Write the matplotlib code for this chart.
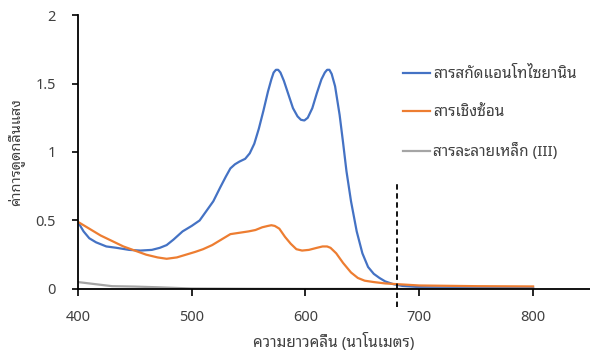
import matplotlib
matplotlib.use('Agg')
import matplotlib.pyplot as plt

plt.rcParams['font.family'] = ['Noto Sans Thai Looped', 'Noto Sans', 'DejaVu Sans']

# absorbance spectra (nm, absorbance)
wl_antho = [400, 405, 410, 416, 425, 434, 445, 455, 465, 472, 478, 484, 492, 500,
            507, 513, 519, 525, 530, 534, 538, 542, 547, 551, 555, 559, 563, 567,
            570, 572, 574, 576, 578, 581, 585, 589, 593, 596, 599, 602, 606, 610,
            614, 617, 619, 621, 623, 626, 630, 633, 636, 640, 645, 650, 655, 660,
            665, 670, 677, 685, 700, 720, 760, 800]
abs_antho = [0.49, 0.42, 0.37, 0.34, 0.31, 0.30, 0.285, 0.28, 0.285, 0.30, 0.32, 0.36, 0.42, 0.46,
             0.50, 0.57, 0.64, 0.74, 0.82, 0.88, 0.91, 0.93, 0.95, 0.99, 1.06, 1.17, 1.30, 1.44,
             1.53, 1.58, 1.60, 1.60, 1.58, 1.52, 1.42, 1.32, 1.26, 1.235, 1.23, 1.25, 1.32, 1.43,
             1.53, 1.58, 1.60, 1.60, 1.57, 1.48, 1.27, 1.07, 0.86, 0.64, 0.42, 0.26, 0.16, 0.11,
             0.08, 0.055, 0.035, 0.022, 0.013, 0.01, 0.008, 0.008]

wl_complex = [400, 410, 420, 430, 440, 450, 460, 470, 478, 487, 495, 503, 510, 518,
              526, 534, 542, 550, 556, 562, 567, 570, 573, 577, 582, 587, 592, 597, 603,
              610, 615, 619, 622, 627, 633, 640, 646, 652, 660, 670, 680, 690, 700, 750, 800]
abs_complex = [0.49, 0.44, 0.39, 0.35, 0.31, 0.28, 0.25, 0.23, 0.22, 0.23, 0.25, 0.27, 0.29, 0.32,
               0.36, 0.40, 0.41, 0.42, 0.43, 0.45, 0.46, 0.465, 0.46, 0.44, 0.38, 0.33, 0.29, 0.28, 0.285,
               0.30, 0.31, 0.31, 0.30, 0.26, 0.19, 0.12, 0.08, 0.06, 0.05, 0.04, 0.035, 0.03, 0.025,
               0.02, 0.018]

wl_iron = [400, 410, 420, 430, 450, 470, 490, 500, 550, 600, 700, 800]
abs_iron = [0.05, 0.04, 0.03, 0.02, 0.017, 0.012, 0.006, 0.003, 0.001, 0.0, 0.0, 0.0]

labels = ['สารสกัดแอนโทไซยานิน', 'สารเชิงซ้อน', 'สารละลายเหล็ก (III)']
colors = ['#4472C4', '#ED7D31', '#A5A5A5']
cutoff_wl = 680

fig = plt.figure(figsize=(5.9, 3.58), dpi=100)
ax = fig.add_axes([0.132, 0.193, 0.868, 0.765])

ax.plot(wl_antho, abs_antho, color=colors[0], lw=1.6, label=labels[0])
ax.plot(wl_complex, abs_complex, color=colors[1], lw=1.6, label=labels[1])
ax.plot(wl_iron, abs_iron, color=colors[2], lw=1.6, label=labels[2])

# dashed marker line that runs below the x axis
ax.plot([cutoff_wl, cutoff_wl], [-0.13, 0.77], color='black', lw=1.3,
        linestyle=(0, (3, 2)), clip_on=False)

ax.set_xlim(400, 850)
ax.set_ylim(0, 2)
ax.set_xticks([400, 500, 600, 700, 800])
ax.set_yticks([0, 0.5, 1, 1.5, 2])
ax.set_yticklabels(['0', '0.5', '1', '1.5', '2'])

for s in ['top', 'right']:
    ax.spines[s].set_visible(False)
for s in ['left', 'bottom']:
    ax.spines[s].set_linewidth(1.3)
    ax.spines[s].set_color('black')

ax.tick_params(axis='x', direction='out', length=5, width=1.2, pad=10,
               labelsize=10.5, labelcolor='#404040')
ax.tick_params(axis='y', direction='out', length=4, width=1.2, pad=12,
               labelsize=10.5, labelcolor='#404040')

ax.set_xlabel('ความยาวคลื่น (นาโนเมตร)', fontsize=11, color='#404040', labelpad=6)
ax.set_ylabel('ค่าการดูดกลืนแสง', fontsize=10.5, color='#404040', labelpad=0)
ax.yaxis.set_label_coords(-0.105, 0.5)

ax.legend(loc='upper left', bbox_to_anchor=(0.683, 0.812), bbox_transform=fig.transFigure,
          frameon=False, fontsize=11, handlelength=1.75, handletextpad=0.2,
          labelspacing=1.5, borderpad=0, borderaxespad=0, labelcolor='#404040')

fig.savefig('out.png', dpi=100)
